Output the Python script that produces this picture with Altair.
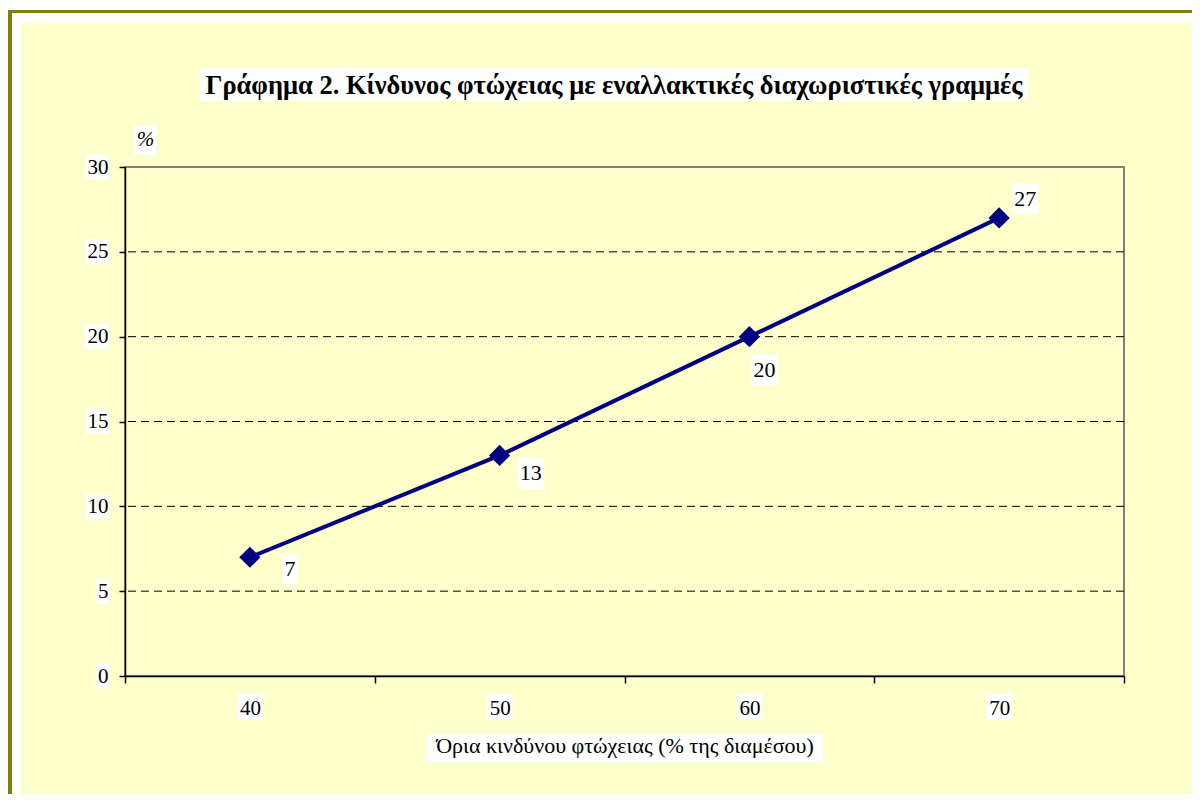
import altair as alt
import pandas as pd

# ---- data ----
CATS = ["40", "50", "60", "70"]
VALUES = [7, 13, 20, 27]
LABELS = ["7", "13", "20", "27"]
Y_TICKS = [0, 5, 10, 15, 20, 25, 30]
GRID = [5, 10, 15, 20, 25]

TITLE = "Γράφημα 2. Κίνδυνος φτώχειας με εναλλακτικές διαχωριστικές γραμμές"
X_TITLE = "Όρια κινδύνου φτώχειας (% της διαμέσου)"
Y_UNIT = "%"

# ---- style ----
FONT = "Liberation Serif"
YELLOW = "#FFFFCC"
OLIVE = "#808000"
NAVY = "#000080"
W, H = 999, 509
PAD = {"left": 117, "top": 159, "right": 68, "bottom": 118}
LABEL_OFFSETS = [(40, 12), (31, 18), (15, 33), (26, -19)]


def box(w, h, anchor="center"):
    if anchor == "right":
        return f"M{-w},{-h / 2}H0V{h / 2}H{-w}Z"
    return f"M{-w / 2},{-h / 2}H{w / 2}V{h / 2}H{-w / 2}Z"


df = pd.DataFrame({"cat": CATS, "val": VALUES, "lab": LABELS})
ydf = pd.DataFrame({"val": Y_TICKS,
                    "box": [box(10.5 * len(str(t)) + 3, 25, "right") for t in Y_TICKS]})
gdf = pd.DataFrame({"val": GRID})
xdf = pd.DataFrame({"cat": CATS})
one = alt.Data(values=[{}])

X = alt.X("cat:N", sort=CATS,
          scale=alt.Scale(type="band", domain=CATS, paddingInner=0, paddingOuter=0),
          axis=alt.Axis(tickBand="extent", labelAngle=0, tickSize=7, labelPadding=14,
                        title=X_TITLE, titlePadding=17, titleFont=FONT,
                        titleFontSize=22, titleFontWeight="normal", titleColor="black",
                        grid=False, zindex=1))
Y = alt.Y("val:Q",
          scale=alt.Scale(domain=[0, 30], nice=False),
          axis=alt.Axis(values=Y_TICKS, tickSize=6, labelPadding=11, grid=False,
                        title=None, zindex=1))


def strip(x, x2, y, y2, color):
    return alt.Chart(one).mark_rect(color=color, strokeWidth=0).encode(
        x=alt.value(x), x2=alt.value(x2), y=alt.value(y), y2=alt.value(y2))


layers = [
    strip(-117, 1067, -159, -157, "white"),
    strip(-117, -113, -157, 627, OLIVE),
    strip(-117, 1067, -157, -154, OLIVE),
    strip(-113, -104, -154, 627, "white"),
    strip(-113, 1067, -154, -144, "white"),
]

# white label backgrounds
layers.append(alt.Chart(ydf).mark_point(filled=True, color="white", opacity=1, size=4,
                                        strokeWidth=0).encode(
    x=alt.value(-16), y=Y, shape=alt.Shape("box:N", scale=None)))
layers.append(alt.Chart(xdf).mark_point(filled=True, color="white", opacity=1, size=4,
                                        strokeWidth=0, shape=box(25, 27)).encode(
    x=X, y=alt.value(539.5)))
layers.append(alt.Chart(one).mark_point(filled=True, color="white", opacity=1, size=4,
                                        strokeWidth=0, shape=box(396, 29)).encode(
    x=alt.value(500), y=alt.value(581.5)))
layers.append(alt.Chart(one).mark_point(filled=True, color="white", opacity=1, size=4,
                                        strokeWidth=0, shape=box(828, 33)).encode(
    x=alt.value(489), y=alt.value(-82.5)))
layers.append(alt.Chart(one).mark_point(filled=True, color="white", opacity=1, size=4,
                                        strokeWidth=0, shape=box(23, 30)).encode(
    x=alt.value(20.5), y=alt.value(-27)))

# grid lines
layers.append(alt.Chart(gdf).mark_rule(color="black", strokeWidth=1,
                                       strokeDash=[8, 5]).encode(y=Y))

# series
base = alt.Chart(df)
layers.append(base.mark_line(color=NAVY, strokeWidth=4).encode(x=X, y=Y))
layers.append(base.mark_point(shape="diamond", filled=True, size=450, color=NAVY,
                              opacity=1).encode(x=X, y=Y))

for cat, lab, (dx, dy) in zip(CATS, LABELS, LABEL_OFFSETS):
    sub = base.transform_filter(alt.datum.cat == cat)
    layers.append(sub.mark_point(filled=True, color="white", opacity=1, size=4,
                                 strokeWidth=0, shape=box(11 * len(lab) + 4, 31),
                                 xOffset=dx, yOffset=dy).encode(x=X, y=Y))
    layers.append(sub.mark_text(font=FONT, fontSize=22, color="black", align="center",
                                baseline="middle", dx=dx, dy=dy).encode(
        x=X, y=Y, text="lab:N"))

# title and unit
layers.append(alt.Chart(one).mark_text(text=TITLE, font=FONT, fontSize=26.5,
                                       fontWeight="bold", color="black",
                                       align="center", baseline="alphabetic").encode(
    x=alt.value(489), y=alt.value(-73)))
layers.append(alt.Chart(one).mark_text(text=Y_UNIT, font=FONT, fontSize=21,
                                       fontStyle="italic", color="black",
                                       align="center", baseline="middle").encode(
    x=alt.value(20.5), y=alt.value(-27)))

chart = alt.layer(*layers).properties(
    width=W, height=H, padding=PAD,
    autosize=alt.AutoSizeParams(type="none"),
    background=YELLOW,
).configure_view(
    stroke="#808080", strokeWidth=2
).configure_axis(
    labelFont=FONT, labelFontSize=21, labelColor="black",
    domainColor="black", domainWidth=1.5, tickColor="black", tickWidth=1.5,
)

chart.save("out.html", embed_options={"renderer": "svg", "actions": False})
